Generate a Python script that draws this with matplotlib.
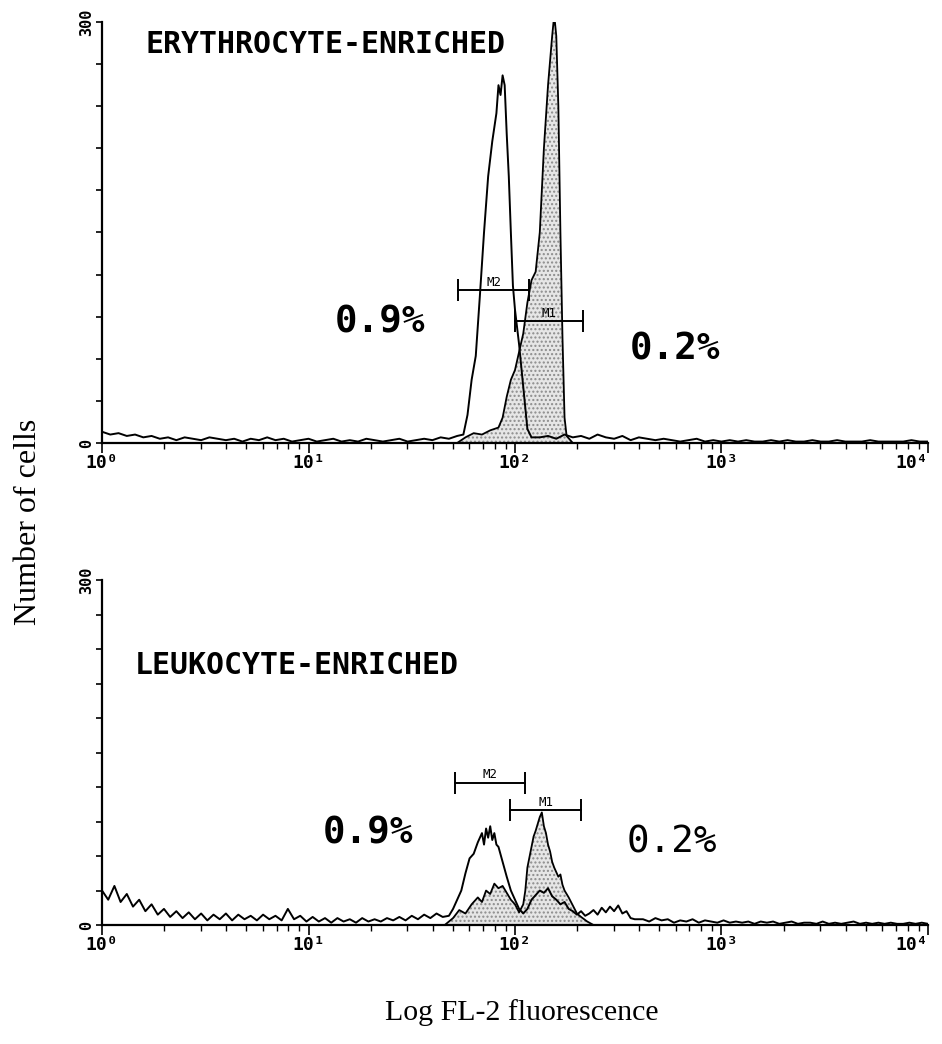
"""
Flow cytometry FL-2 histograms: erythrocyte- vs leukocyte-enriched fractions.
Two stacked panels, log channel axis, overlaid open / stippled histograms.
"""
import numpy as np
import matplotlib
matplotlib.use('Agg')
import matplotlib.pyplot as plt
from matplotlib.ticker import FixedLocator, LogLocator, NullFormatter

# ===========================================================================
# DATA (log10 of FL-2 channel, cell counts)
# ===========================================================================
# --- top panel: erythrocyte-enriched ---
top_open_lo = [8, 6, 7, 5, 6, 4, 5, 3, 4, 2, 4, 3, 2, 4, 3, 2, 3, 1, 3, 2, 4, 2,
               3, 1, 2, 3, 1, 2, 3, 1, 2, 1, 3, 2, 1, 2, 3, 1, 2, 3, 2, 4, 3, 5]
top_open_peak_log = [1.75, 1.77, 1.79, 1.81, 1.83, 1.85, 1.87, 1.89, 1.91, 1.92, 1.93,
                     1.94, 1.95, 1.96, 1.97, 1.98, 1.99, 2.00, 2.02, 2.04, 2.06, 2.08]
top_open_peak = [6, 20, 45, 62, 105, 150, 190, 215, 235, 255, 248,
                 262, 255, 220, 190, 150, 112, 95, 70, 40, 10, 4]
top_open_hi = [4, 5, 3, 6, 4, 5, 3, 6, 4, 3, 5, 2, 4, 3, 2, 3, 2, 1, 2, 3, 1, 2, 1, 2,
               1, 2, 1, 1, 2, 1, 2, 1, 1, 2, 1, 1, 2, 1, 1, 1, 2, 1, 1, 1, 1, 2, 1, 1]

top_fill_log = [1.72, 1.76, 1.80, 1.84, 1.88, 1.92, 1.94, 1.96, 1.98, 2.00, 2.02, 2.04,
                2.06, 2.08, 2.10, 2.12, 2.14, 2.16, 2.18, 2.19, 2.20, 2.21, 2.22, 2.23,
                2.24, 2.25, 2.28]
top_fill = [0, 4, 7, 6, 9, 11, 18, 33, 45, 52, 65, 78,
            100, 116, 122, 150, 210, 255, 290, 305, 290, 240, 150, 75,
            18, 5, 0]

# --- bottom panel: leukocyte-enriched ---
bot_open_lo = [30, 22, 34, 20, 27, 16, 22, 12, 18, 9, 14, 7, 12, 6, 11, 5, 10, 4, 9, 5,
               10, 4, 9, 5, 8, 4, 9, 5, 8, 4, 14, 5, 8, 3, 7, 3, 6, 2, 6, 3, 5, 2, 6, 3,
               5, 3, 6, 4, 7, 4, 8, 5, 9, 6, 10, 7]
bot_open_peak_log = [1.68, 1.70, 1.72, 1.74, 1.76, 1.78, 1.80, 1.82, 1.84, 1.85, 1.86,
                     1.87, 1.88, 1.89, 1.90, 1.91, 1.92, 1.94, 1.96, 1.98, 2.00, 2.02,
                     2.04, 2.06, 2.08, 2.10, 2.12, 2.14, 2.16, 2.18, 2.20, 2.22, 2.24,
                     2.26, 2.28, 2.30, 2.32, 2.34, 2.36, 2.38, 2.40, 2.42, 2.44, 2.46,
                     2.48, 2.50, 2.52, 2.54, 2.56, 2.58]
bot_open_peak = [8, 14, 22, 30, 45, 58, 62, 72, 80, 70, 84,
                 76, 86, 74, 80, 70, 68, 55, 42, 30, 22, 14,
                 10, 14, 22, 26, 30, 28, 32, 25, 22, 18, 20,
                 14, 12, 9, 12, 8, 10, 13, 9, 15, 11, 16,
                 12, 17, 10, 12, 6, 5]
bot_open_hi = [5, 3, 6, 4, 5, 2, 4, 3, 5, 2, 4, 3, 2, 4, 2, 3, 2, 3, 1, 3, 2, 3, 1, 2,
               3, 1, 2, 2, 1, 3, 1, 2, 1, 2, 3, 1, 2, 1, 2, 1, 2, 1, 1, 2, 1, 2, 1]

bot_fill_log = [1.66, 1.70, 1.73, 1.76, 1.79, 1.82, 1.84, 1.86, 1.88, 1.90, 1.92, 1.94,
                1.96, 1.98, 2.00, 2.02, 2.04, 2.05, 2.06, 2.08, 2.09, 2.10, 2.11, 2.12,
                2.13, 2.14, 2.15, 2.16, 2.17, 2.18, 2.19, 2.20, 2.21, 2.22, 2.23, 2.24,
                2.26, 2.28, 2.30, 2.32, 2.35, 2.38]
bot_fill = [0, 6, 13, 10, 18, 24, 20, 30, 27, 36, 32, 34,
            28, 22, 18, 11, 18, 30, 50, 68, 77, 82, 88, 94,
            98, 86, 80, 70, 64, 55, 50, 46, 42, 44, 35, 30,
            24, 17, 10, 7, 3, 0]

# marker gates (channel range, bar height in counts)
top_gates = {'M2': (53, 117, 109), 'M1': (100, 214, 87)}
bot_gates = {'M2': (51, 112, 124), 'M1': (95, 209, 100)}

panel_titles = ['ERYTHROCYTE-ENRICHED', 'LEUKOCYTE-ENRICHED']
pct_left = ['0.9%', '0.9%']
pct_right = ['0.2%', '0.2%']
decade_labels = ['10\u2070', '10\u00b9', '10\u00b2', '10\u00b3', '10\u2074']

MONO = 'DejaVu Sans Mono'
SERIF = 'Liberation Serif'


def open_series(lo, peak_log, peak, hi, lo_end, hi_start):
    """Stitch the baseline fuzz and the peak readings into one curve."""
    lo_log = np.linspace(0.0, lo_end, len(lo))
    hi_log = np.linspace(hi_start, 4.0, len(hi))
    logs = np.concatenate([lo_log, peak_log, hi_log])
    counts = np.concatenate([lo, peak, hi])
    return 10 ** logs, counts


def style_axis(ax):
    ax.set_xscale('log')
    ax.set_xlim(1, 1e4)
    ax.set_ylim(0, 300)
    for side in ('top', 'right'):
        ax.spines[side].set_visible(False)
    for side in ('left', 'bottom'):
        ax.spines[side].set_linewidth(1.6)
    ax.patch.set_alpha(0)

    ax.set_yticks(np.arange(0, 301, 30))
    ax.set_yticklabels(['0'] + [''] * 9 + ['300'], rotation=90, va='center',
                       family=MONO, fontweight='bold', fontsize=11)
    ax.yaxis.set_minor_locator(FixedLocator([150]))
    ax.tick_params(axis='y', which='major', length=4, width=1.2, pad=2)
    ax.tick_params(axis='y', which='minor', length=10, width=1.2)

    ax.set_xticks([1, 10, 100, 1000, 10000])
    ax.set_xticklabels(decade_labels, family=MONO, fontweight='bold', fontsize=13)
    ax.get_xticklabels()[-1].set_horizontalalignment('right')
    ax.xaxis.set_minor_locator(LogLocator(base=10, subs=np.arange(2, 10)))
    ax.xaxis.set_minor_formatter(NullFormatter())
    ax.tick_params(axis='x', which='major', length=7, width=1.2, pad=1)
    ax.tick_params(axis='x', which='minor', length=4, width=1.0)


def draw_gates(ax, gates):
    for name, (x1, x2, y) in gates.items():
        ax.plot([x1, x2], [y, y], color='black', lw=1.4, marker='|', ms=16, mew=1.4,
                zorder=5)
        ax.annotate(name, (np.sqrt(x1 * x2), y), xytext=(0, 1), textcoords='offset points',
                    ha='center', va='bottom', family=MONO, fontsize=9, zorder=5)


fig = plt.figure(figsize=(9.42, 10.44), dpi=100)
ax_top = fig.add_axes([0.1083, 0.5757, 0.8768, 0.4032])
ax_bot = fig.add_axes([0.1083, 0.1140, 0.8768, 0.3300])

panels = [
    (ax_top, open_series(top_open_lo, top_open_peak_log, top_open_peak, top_open_hi, 1.72, 2.12),
     (10 ** np.array(top_fill_log), np.array(top_fill)), top_gates),
    (ax_bot, open_series(bot_open_lo, bot_open_peak_log, bot_open_peak, bot_open_hi, 1.65, 2.62),
     (10 ** np.array(bot_fill_log), np.array(bot_fill)), bot_gates),
]

for ax, (ox, oy), (fx, fy), gates in panels:
    style_axis(ax)
    ax.fill_between(fx, 0, fy, facecolor='#e6e6e6', edgecolor='#8c8c8c', hatch='....',
                    linewidth=0, zorder=1)
    ax.plot(fx, fy, color='black', lw=1.3, zorder=3)
    ax.plot(ox, oy, color='black', lw=1.4, zorder=4)
    draw_gates(ax, gates)

# panel captions and gate percentages
fig.text(0.154, 0.957, panel_titles[0], family=MONO, fontweight='bold', fontsize=21.5, va='center')
fig.text(0.143, 0.363, panel_titles[1], family=MONO, fontweight='bold', fontsize=21.5, va='center')
fig.text(0.403, 0.691, pct_left[0], family=MONO, fontweight='bold', fontsize=27, ha='center', va='center')
fig.text(0.717, 0.665, pct_right[0], family=MONO, fontweight='bold', fontsize=27, ha='center', va='center')
fig.text(0.391, 0.202, pct_left[1], family=MONO, fontweight='bold', fontsize=27, ha='center', va='center')
fig.text(0.713, 0.193, pct_right[1], family=MONO, fontsize=27, ha='center', va='center')

fig.text(0.030, 0.500, 'Number of cells', family=SERIF, fontsize=23, rotation=90,
         ha='center', va='center')
fig.text(0.554, 0.030, 'Log FL-2 fluorescence', family=SERIF, fontsize=21.5,
         ha='center', va='center')

fig.savefig('out.png', dpi=100)
